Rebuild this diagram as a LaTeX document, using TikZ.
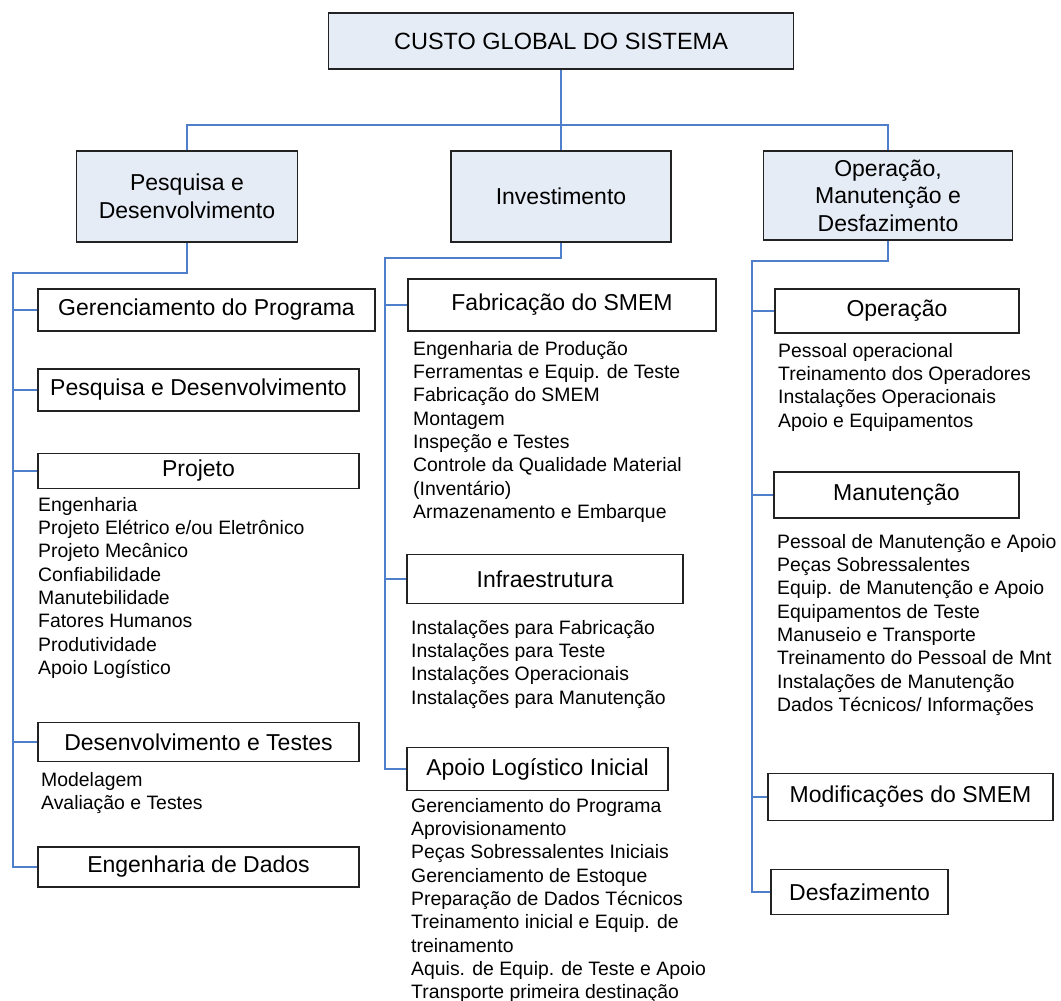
\documentclass[tikz,border=0pt]{standalone}
\usepackage{fontspec}
\setmainfont{Liberation Sans}
\definecolor{headfill}{HTML}{E6ECF6}
\definecolor{boxline}{HTML}{222222}
\definecolor{connblue}{HTML}{4F7FCB}
\newcommand\boxtitlefont{\fontsize{23}{28}\selectfont}
\newcommand\itemlistfont{\fontsize{19.4}{23.3}\selectfont}
\tikzset{
  box/.style={draw=boxline, line width=1.5pt, inner sep=0pt, align=center,
              font=\boxtitlefont, text=black},
  headbox/.style={box, fill=headfill},
  itemlist/.style={anchor=north west, inner sep=0pt, align=left,
                   font=\itemlistfont, text=black},
  conn/.style={draw=connblue, line width=2pt},
}
\begin{document}
\begin{tikzpicture}[x=1pt, y=-1pt]
\useasboundingbox (0,0) rectangle (1061,1001);

% top level
\node[headbox, minimum width=465, minimum height=56, font=\fontsize{23.5}{28}\selectfont]
  (top) at (561,41) {CUSTO GLOBAL DO SISTEMA};

% second level
\node[headbox, minimum width=221, minimum height=91] (pd)  at (187,196.5) {Pesquisa e\\Desenvolvimento};
\node[headbox, minimum width=220, minimum height=91] (inv) at (561,196.5) {Investimento};
\node[headbox, minimum width=249, minimum height=89, font=\fontsize{23}{27.5}\selectfont]
  (omd) at (888,195.5) {Operação,\\Manutenção e\\Desfazimento};

% research and development branch
\node[box, minimum width=337, minimum height=42] (gp)   at (206.5,310)   {Gerenciamento do Programa};
\node[box, minimum width=321, minimum height=42] (pdd)  at (198.5,390)   {Pesquisa e Desenvolvimento};
\node[box, minimum width=321, minimum height=35] (proj) at (198.5,471)   {Projeto};
\node[itemlist] (projlist) at (38,494.7) {\strut Engenharia\\Projeto Elétrico e/ou Eletrônico\\Projeto Mecânico\\Confiabilidade\\Manutebilidade\\Fatores Humanos\\Produtividade\\Apoio Logístico};
\node[box, minimum width=321, minimum height=39] (dt)   at (198.5,742)   {Desenvolvimento e Testes};
\node[itemlist] (dtlist) at (41,770) {\strut Modelagem\\Avaliação e Testes};
\node[box, minimum width=321, minimum height=40] (ed)   at (198.5,867)   {Engenharia de Dados};

% investment branch
\node[box, minimum width=308, minimum height=52] (fab)   at (562,305)     {Fabricação do SMEM};
\node[itemlist] (fablist) at (413,338.7) {\strut Engenharia de Produção\\Ferramentas e Equip. de Teste\\Fabricação do SMEM\\Montagem\\Inspeção e Testes\\Controle da Qualidade Material\\(Inventário)\\Armazenamento e Embarque};
\node[box, minimum width=276, minimum height=49] (infra) at (545,579)     {Infraestrutura};
\node[itemlist] (infralist) at (411,617.7) {\strut Instalações para Fabricação\\Instalações para Teste\\Instalações Operacionais\\Instalações para Manutenção};
\node[box, minimum width=261, minimum height=43] (ali)   at (537.5,769)   {Apoio Logístico Inicial};
\node[itemlist] (alilist) at (411,795.7) {\strut Gerenciamento do Programa\\Aprovisionamento\\Peças Sobressalentes Iniciais\\Gerenciamento de Estoque\\Preparação de Dados Técnicos\\Treinamento inicial e Equip. de\\treinamento\\Aquis. de Equip. de Teste e Apoio\\Transporte primeira destinação};

% operation, maintenance and disposal branch
\node[box, minimum width=244, minimum height=44] (op)   at (897,311)     {Operação};
\node[itemlist] (oplist) at (778,340.7) {\strut Pessoal operacional\\Treinamento dos Operadores\\Instalações Operacionais\\Apoio e Equipamentos};
\node[box, minimum width=245, minimum height=46] (man)  at (896.5,495)   {Manutenção};
\node[itemlist] (manlist) at (777,531.7) {\strut Pessoal de Manutenção e Apoio\\Peças Sobressalentes\\Equip. de Manutenção e Apoio\\Equipamentos de Teste\\Manuseio e Transporte\\Treinamento do Pessoal de Mnt\\Instalações de Manutenção\\Dados Técnicos/ Informações};
\node[box, minimum width=285, minimum height=47] (mod)  at (910.5,797)   {Modificações do SMEM};
\node[box, minimum width=177, minimum height=45] (desf) at (859.5,892)   {Desfazimento};

% connectors: top level to second level
\coordinate (bus) at (561,125);
\draw[conn] (top.south) -- (inv.north);
\draw[conn] (pd.north) |- (bus) -| (omd.north);

% left trunk
\coordinate (ltop) at (13,273);
\draw[conn] (pd.south) |- (ltop) |- (ed.west);
\foreach \n in {gp,pdd,proj,dt}
  \draw[conn] (ltop |- \n.west) -- (\n.west);

% middle trunk
\coordinate (mtop) at (385,258);
\draw[conn] (inv.south) |- (mtop) |- (ali.west);
\foreach \n in {fab,infra}
  \draw[conn] (mtop |- \n.west) -- (\n.west);

% right trunk
\coordinate (rtop) at (752,261);
\draw[conn] (omd.south) |- (rtop) |- (desf.west);
\foreach \n in {op,man,mod}
  \draw[conn] (rtop |- \n.west) -- (\n.west);
\end{tikzpicture}
\end{document}
